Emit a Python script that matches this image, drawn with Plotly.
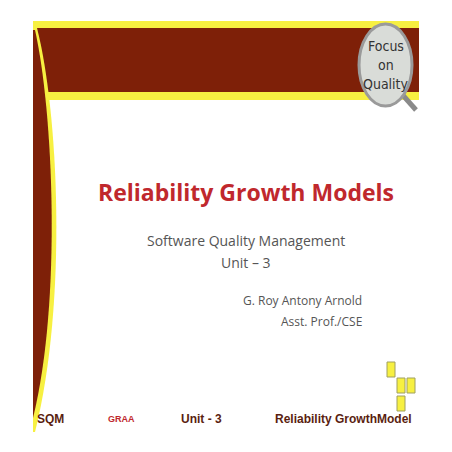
import plotly.graph_objects as go

# slide texts
title = "Reliability Growth Models"
subtitle = ["Software Quality Management", "Unit – 3"]
author = ["G. Roy Antony Arnold", "Asst. Prof./CSE"]
footer = ["SQM", "GRAA", "Unit - 3", "Reliability GrowthModel"]
badge = ["Focus", "on", "Quality"]
# yellow squares (x0, y0) in slide pixels
squares_x = [387, 397, 407, 397]
squares_y = [362, 378, 378, 396]

MAROON = "#7e2008"
YELLOW = "#f7f041"

fig = go.Figure()
shapes = []
# top bands
shapes.append(dict(type="rect", x0=33, x1=419, y0=21, y1=100, fillcolor=YELLOW, line_width=0, layer="below"))
shapes.append(dict(type="rect", x0=36, x1=419, y0=28, y1=92, fillcolor=MAROON, line_width=0, layer="below"))
# left curved wedge
shapes.append(dict(type="path", path="M 33 28 L 37 28 C 58 110, 68 300, 35 432 L 33 432 Z",
                   fillcolor=YELLOW, line_width=0, layer="below"))
shapes.append(dict(type="path", path="M 33 30 L 35 30 C 53 110, 62 300, 33 418 Z",
                   fillcolor=MAROON, line_width=0, layer="below"))
# magnifier handle and lens
shapes.append(dict(type="line", x0=400, y0=92, x1=416, y1=110, line=dict(color="#8a8a8a", width=5)))
shapes.append(dict(type="circle", x0=359, y0=24, x1=412, y1=106, fillcolor="#d9dcd8",
                   line=dict(color="#9a9a9a", width=3)))
for sx, sy in zip(squares_x, squares_y):
    shapes.append(dict(type="rect", x0=sx, x1=sx + 8, y0=sy, y1=sy + 15, fillcolor=YELLOW,
                       line=dict(color="#a0a060", width=1)))

ann = []
for i, t in enumerate(badge):
    ann.append(dict(x=386, y=46 + i * 19, text=t, showarrow=False,
                    font=dict(family="DejaVu Sans Condensed, sans-serif", size=14, color="#333")))
ann.append(dict(x=246, y=192, text="<b>" + title + "</b>", showarrow=False,
                font=dict(family="Open Sans", size=23, color="#c0282d")))
for i, t in enumerate(subtitle):
    ann.append(dict(x=246, y=240 + i * 22, text=t, showarrow=False,
                    font=dict(family="Open Sans", size=14, color="#555")))
for i, t in enumerate(author):
    ann.append(dict(x=364, y=300 + i * 21, text=t, showarrow=False, xanchor="right",
                    font=dict(family="Open Sans", size=12, color="#555")))
fx = [35, 106, 179, 414]
fanchor = ["left", "left", "left", "right"]
fsize = [12, 9, 12, 12]
fcol = ["#5a1e10", "#c0282d", "#5a1e10", "#5a1e10"]
for t, x, a, s, c in zip(footer, fx, fanchor, fsize, fcol):
    ann.append(dict(x=x, y=419, text="<b>" + t + "</b>", showarrow=False, xanchor=a,
                    font=dict(family="Liberation Sans Narrow, Liberation Sans", size=s, color=c)))

# page body has an 8px margin, so the view is offset to compensate
fig.update_layout(
    width=452, height=452, margin=dict(l=0, r=0, t=0, b=0),
    paper_bgcolor="white", plot_bgcolor="white",
    xaxis=dict(range=[8, 460], visible=False, fixedrange=True),
    yaxis=dict(range=[460, 8], visible=False, fixedrange=True),
    shapes=shapes, annotations=ann, showlegend=False,
)
fig.write_html("out.html")
